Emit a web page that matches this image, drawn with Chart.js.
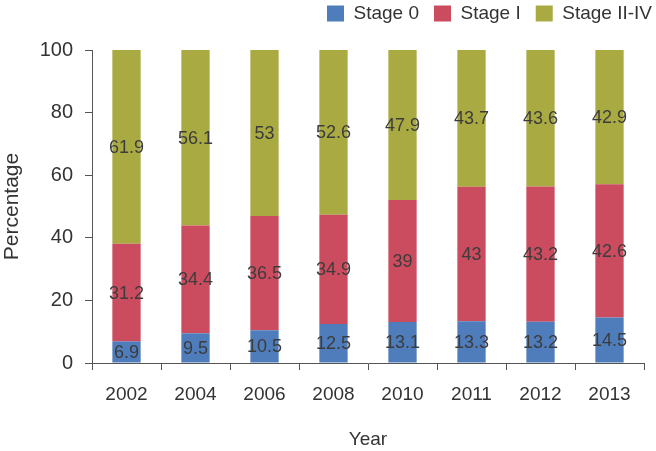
<!DOCTYPE html>
<html>
<head>
<meta charset="utf-8">
<script src="https://cdn.jsdelivr.net/npm/chart.js@4"></script>
<style>
  html, body { margin: 0; padding: 0; background: #fff; }
  #wrap { width: 656px; height: 451px; position: relative; }
</style>
</head>
<body>
<div id="wrap"><canvas id="stageChart"></canvas></div>
<script>
const years = ["2002", "2004", "2006", "2008", "2010", "2011", "2012", "2013"];
const stage0 = [6.9, 9.5, 10.5, 12.5, 13.1, 13.3, 13.2, 14.5];
const stage1 = [31.2, 34.4, 36.5, 34.9, 39, 43, 43.2, 42.6];
const stage2to4 = [61.9, 56.1, 53, 52.6, 47.9, 43.7, 43.6, 42.9];
const yTicks = [0, 20, 40, 60, 80, 100];

const FONT = "'Liberation Sans', Arial, sans-serif";

// writes each segment's value in the middle of its bar
const barValues = {
    id: "barValues",
    afterDatasetsDraw(chart) {
        const ctx = chart.ctx;
        ctx.save();
        ctx.font = "18px " + FONT;
        ctx.fillStyle = "#3c3c3c";
        ctx.textAlign = "center";
        ctx.textBaseline = "middle";
        chart.data.datasets.forEach((ds, i) => {
            chart.getDatasetMeta(i).data.forEach((bar, j) => {
                const mid = (bar.y + bar.base) / 2;
                ctx.fillText(String(ds.data[j]), bar.x, mid + 1);
            });
        });
        ctx.restore();
    }
};

// nudge the legend up and to the right without moving the plot
const legendShift = {
    id: "legendShift",
    afterLayout(chart) {
        const lg = chart.legend;
        if (!lg) return;
        lg.left += 23; lg.right += 23;
        lg.top -= 17; lg.bottom -= 17;
    }
};

new Chart(document.getElementById("stageChart"), {
    type: "bar",
    data: {
        labels: years,
        datasets: [
            { label: "Stage 0", data: stage0, backgroundColor: "#4f7cba" },
            { label: "Stage I", data: stage1, backgroundColor: "#cb4b5f" },
            { label: "Stage II-IV", data: stage2to4, backgroundColor: "#a9aa42" }
        ]
    },
    options: {
        responsive: true,
        maintainAspectRatio: false,
        animation: false,
        layout: { padding: { left: 0, right: 12, top: 6, bottom: 0 } },
        datasets: { bar: { categoryPercentage: 1, barPercentage: 0.41 } },
        plugins: {
            tooltip: { enabled: false },
            legend: {
                position: "top",
                align: "end",
                labels: {
                    boxWidth: 17,
                    boxHeight: 16,
                    padding: 15,
                    color: "#333",
                    font: { family: FONT, size: 19 }
                }
            }
        },
        scales: {
            x: {
                stacked: true,
                offset: true,
                grid: { display: true, drawOnChartArea: false, offset: true, tickLength: 7, color: "#555" },
                border: { color: "#555" },
                ticks: { color: "#333", padding: 13, font: { family: FONT, size: 19 } },
                title: { display: true, text: "Year", color: "#333", padding: { top: 10, bottom: 0 }, font: { family: FONT, size: 19 } },
                afterFit: s => { s.height = 88; }
            },
            y: {
                stacked: true,
                min: 0,
                max: 100,
                afterBuildTicks: s => { s.ticks = yTicks.map(v => ({ value: v })); },
                grid: { display: true, drawOnChartArea: false, tickLength: 7, color: "#555" },
                border: { color: "#555" },
                ticks: { color: "#333", padding: 12, font: { family: FONT, size: 20 } },
                title: { display: true, text: "Percentage", color: "#333", padding: 0, font: { family: FONT, size: 21 } },
                afterFit: s => { s.width = 92; }
            }
        }
    },
    plugins: [barValues, legendShift]
});
</script>
</body>
</html>
